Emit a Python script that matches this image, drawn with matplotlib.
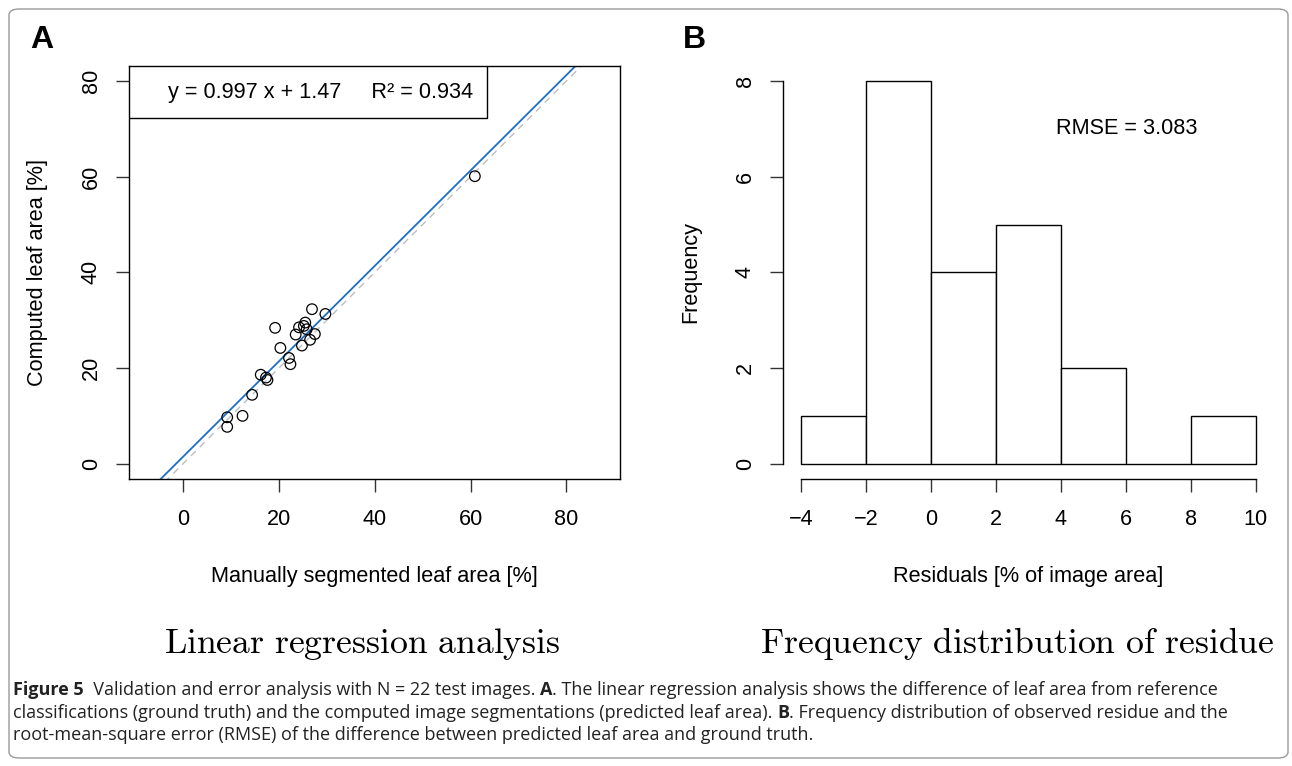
import numpy as np
import matplotlib
matplotlib.use("Agg")
import matplotlib.pyplot as plt
from matplotlib.patches import FancyBboxPatch
from matplotlib import font_manager

# panel A: manual vs computed leaf area [%]
manual = [26.9, 29.7, 19.2, 25.5, 24.2, 25.8, 25.2, 23.5, 27.5, 26.5, 24.8,
          20.3, 22.1, 22.4, 16.2, 17.3, 17.6, 14.4, 9.2, 12.4, 9.2, 60.9]
computed = [32.3, 31.3, 28.4, 29.5, 28.5, 28.1, 28.8, 27.0, 27.1, 25.9, 24.7,
            24.2, 22.1, 20.8, 18.6, 18.0, 17.5, 14.4, 9.7, 10.0, 7.7, 60.1]
slope = 0.997
intercept = 1.47
r2 = 0.934
ticks_a = [0, 20, 40, 60, 80]

# panel B: histogram of residuals
bin_edges = [-4, -2, 0, 2, 4, 6, 8, 10]
counts = [1, 8, 4, 5, 2, 0, 1]
rmse = 3.083
ticks_b_y = [0, 2, 4, 6, 8]

installed = {f.name for f in font_manager.fontManager.ttflist}
sans = "Liberation Sans" if "Liberation Sans" in installed else "DejaVu Sans"
narrow = "Liberation Sans Narrow" if "Liberation Sans Narrow" in installed else "Open Sans"

plt.rcParams["font.family"] = sans
plt.rcParams["mathtext.fontset"] = "cm"
plt.rcParams["axes.linewidth"] = 1.0

W, H = 1292, 766
fig = plt.figure(figsize=(W / 100, H / 100), dpi=100)

def fx(px):
    return px / W

def fy(py):
    return 1 - py / H

FS = 15.6

# border
fig.patches.append(FancyBboxPatch((fx(9), fy(758)), fx(1288) - fx(9), fy(9) - fy(758),
                                  boxstyle="round,pad=0,rounding_size=0.008",
                                  transform=fig.transFigure, fill=False,
                                  edgecolor="#9a9a9a", linewidth=1.0))

tick_kw = dict(length=9.5, width=1.0, labelsize=FS, color="#333333")

def style_ticks(ax):
    ax.tick_params(axis="x", pad=12, **tick_kw)
    ax.tick_params(axis="y", pad=10, labelrotation=90, **tick_kw)
    for lab in ax.get_yticklabels():
        lab.set_va("center")

# ---- panel A ----
axA = fig.add_axes([fx(129), fy(479), fx(620) - fx(129), fy(65.7) - fy(479)])
axA.set_xlim(-11.3, 91.2)
axA.set_ylim(-3.2, 83.2)
xs = np.array(axA.get_xlim())
axA.plot(xs, xs, color="#bdbdbd", lw=1.0, ls=(0, (5, 4)), zorder=1)
axA.plot(xs, slope * xs + intercept, color="#1a6fc4", lw=1.3, zorder=2)
axA.scatter(manual, computed, s=58, facecolors="none", edgecolors="black",
            linewidths=0.9, zorder=3)
axA.set_xticks(ticks_a)
axA.set_yticks(ticks_a)
style_ticks(axA)
axA.set_xlabel("Manually segmented leaf area [%]", fontsize=FS, labelpad=26)
axA.set_ylabel("Computed leaf area [%]", fontsize=FS, labelpad=24)
leg_box = FancyBboxPatch((0, 1 - (118 - 65.7) / 413.3), (487 - 129) / 491, (118 - 65.7) / 413.3,
                         boxstyle="square,pad=0", transform=axA.transAxes,
                         facecolor="white", edgecolor="black", lw=1.0, zorder=4)
axA.add_patch(leg_box)
axA.text((321 - 129) / 491, 1 - (93 - 65.7) / 413.3,
         f"y = {slope} x + {intercept}     R² = {r2}",
         transform=axA.transAxes, ha="center", va="center", fontsize=FS, zorder=5)

# ---- panel B ----
axB = fig.add_axes([fx(783), fy(479), fx(1274) - fx(783), fy(65.7) - fy(479)])
axB.bar(bin_edges[:-1], counts, width=2, align="edge", facecolor="white",
        edgecolor="black", linewidth=1.0)
axB.set_xlim(-4.56, 10.56)
axB.set_ylim(-0.32, 8.32)
axB.spines["top"].set_visible(False)
axB.spines["right"].set_visible(False)
axB.spines["left"].set_bounds(0, 8)
axB.spines["bottom"].set_bounds(-4, 10)
axB.set_xticks(bin_edges)
axB.set_xticklabels([str(v).replace("-", "\u2212") for v in bin_edges])
axB.set_yticks(ticks_b_y)
style_ticks(axB)
axB.set_xlabel("Residuals [% of image area]", fontsize=FS, labelpad=26)
axB.set_ylabel("Frequency", fontsize=FS, labelpad=24)
axB.text(3.85, 7.0, f"RMSE = {rmse}", fontsize=FS, ha="left", va="center")

# panel letters
fig.text(fx(30), fy(40), "A", fontsize=23, fontweight="bold", va="center", ha="left")
fig.text(fx(683), fy(40), "B", fontsize=23, fontweight="bold", va="center", ha="left")

# sub titles
fig.text(fx(362), fy(644), r"$\mathrm{Linear\ regression\ analysis}$", fontsize=25.7,
         ha="center", va="center")
fig.text(fx(1017), fy(644), r"$\mathrm{Frequency\ distribution\ of\ residue}$", fontsize=25.7,
         ha="center", va="center")

# caption with bold runs
caption = [
    [("Figure 5", True), ("  Validation and error analysis with N = 22 test images. ", False),
     ("A", True), (". The linear regression analysis shows the difference of leaf area from reference", False)],
    [("classifications (ground truth) and the computed image segmentations (predicted leaf area). ", False),
     ("B", True), (". Frequency distribution of observed residue and the", False)],
    [("root-mean-square error (RMSE) of the difference between predicted leaf area and ground truth.", False)],
]
cap_color = "#222222"
renderer = fig.canvas.get_renderer()

def draw_line(runs, y, size, dry=False):
    x = fx(13)
    for txt, bold in runs:
        t = fig.text(x, y, txt, fontsize=size, family=narrow,
                     fontweight="bold" if bold else "normal", color=cap_color,
                     ha="left", va="baseline")
        bb = t.get_window_extent(renderer)
        x += bb.width / W
        if dry:
            t.remove()
    return x

# fit the first line to the reference width
end = draw_line(caption[0], fy(695), 10, dry=True)
size = 10 * (fx(1225) - fx(13)) / (end - fx(13))
for i, runs in enumerate(caption):
    draw_line(runs, fy(695 + 22.5 * i), size)

fig.savefig("out.png", dpi=100)
